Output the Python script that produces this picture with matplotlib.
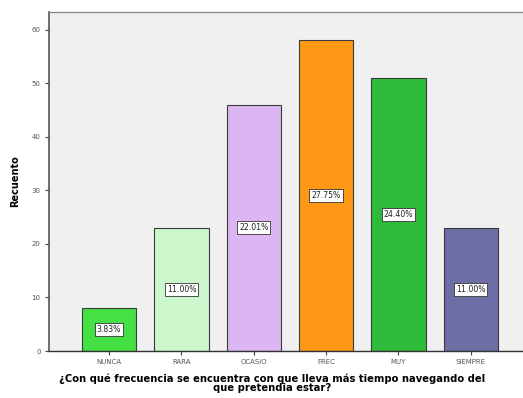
import matplotlib
matplotlib.use("Agg")
import matplotlib.pyplot as plt

categories = ["NUNCA", "RARA", "OCASIO", "FREC", "MUY", "SIEMPRE"]
counts = [8, 23, 46, 58, 51, 23]
percent_labels = ["3.83%", "11.00%", "22.01%", "27.75%", "24.40%", "11.00%"]
bar_colors = ["#44e044", "#ccf7cc", "#dbb6f2", "#ff9814", "#2fbb3a", "#6e6ea6"]
y_ticks = [0, 10, 20, 30, 40, 50, 60]

fig = plt.figure(figsize=(5.23, 3.98), dpi=100)
fig.patch.set_facecolor("white")
ax = fig.add_axes([49 / 523, 1 - 351 / 398, 476 / 523, (351 - 12) / 398])
ax.set_facecolor("#f0f0f0")

x = list(range(len(categories)))
bars = ax.bar(x, counts, width=0.75, color=bar_colors, edgecolor="#3a3a3a",
              linewidth=0.8, zorder=2)

for xi, c, lab in zip(x, counts, percent_labels):
    ax.text(xi, c / 2, lab, ha="center", va="center", fontsize=5.6,
            color="#222222", zorder=3,
            bbox=dict(boxstyle="square,pad=0.25", fc="white", ec="#333333", lw=0.6))

ax.set_xlim(-0.83, 5.75)
ax.set_ylim(0, 63.3)
ax.set_yticks(y_ticks)
ax.set_yticklabels([str(t) for t in y_ticks], fontsize=5, color="#555555")
ax.set_xticks(x)
ax.set_xticklabels(categories, fontsize=5, color="#555555")
ax.tick_params(axis="both", direction="out", length=3, width=0.8, color="#444444", pad=3)

ax.spines["left"].set_color("#555555")
ax.spines["left"].set_linewidth(1.2)
ax.spines["bottom"].set_color("#333333")
ax.spines["bottom"].set_linewidth(1.0)
ax.spines["top"].set_color("#8a8a8a")
ax.spines["top"].set_linewidth(1.0)
ax.spines["right"].set_visible(False)

ax.set_ylabel("Recuento", fontsize=7, fontweight="bold")
ax.yaxis.set_label_coords(-(49 - 20) / 476, 0.5)
ax.set_xlabel("¿Con qué frecuencia se encuentra con que lleva más tiempo navegando del\n"
              "que pretendia estar?", fontsize=7.2, fontweight="bold",
              linespacing=0.95)
ax.xaxis.set_label_coords((272 - 49) / 476, -(373 - 351) / 339)

fig.savefig("out.png", dpi=100, facecolor="white")
